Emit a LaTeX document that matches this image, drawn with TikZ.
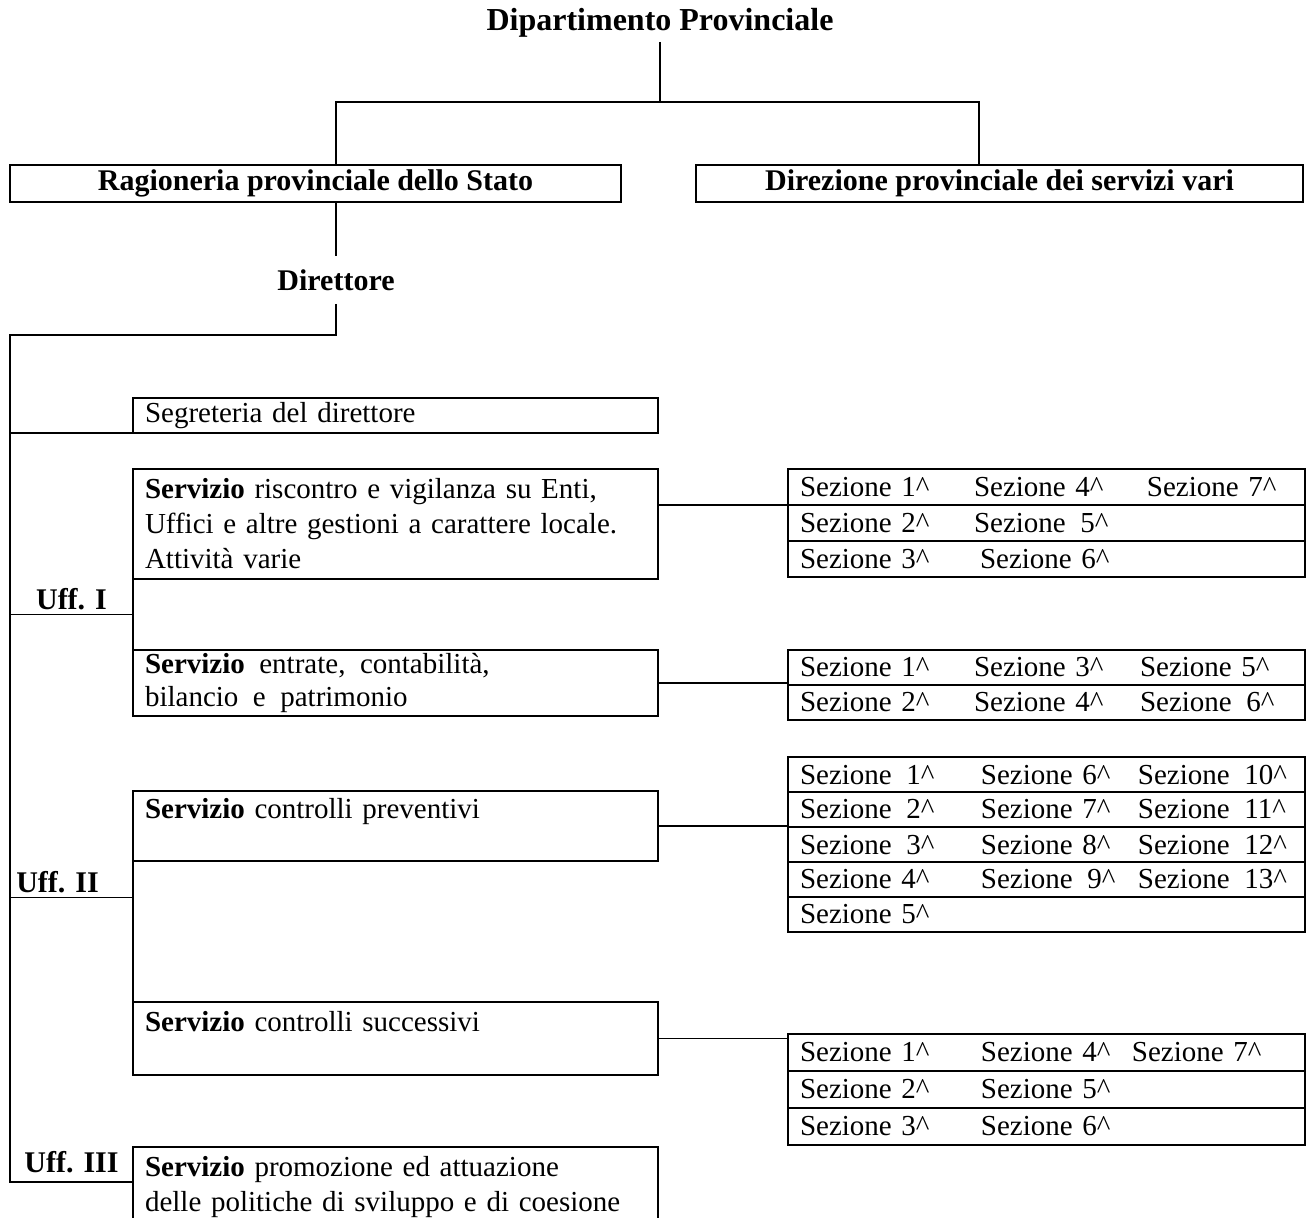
\documentclass[tikz,border=0pt]{standalone}
\usepackage{fontspec}
\setmainfont{Liberation Serif}
\usetikzlibrary{positioning,calc}
\tikzset{
	orgbox/.style={
		rectangle,
		draw=black, line width=1pt,
		outer sep=0pt,
		inner xsep=6pt, inner ysep=1pt,
		font=\fontsize{14.5}{17.5}\selectfont,
	},
	headbox/.style={
		orgbox,
		font=\fontsize{15}{18}\selectfont\bfseries,
		text centered,
		minimum height=18.5pt,
	},
	servbox/.style={orgbox, anchor=north west, align=left, text width=250.5pt},
	sezbox/.style={orgbox, anchor=north west, align=left, text width=246.5pt},
	ufflabel/.style={font=\fontsize{15}{18}\selectfont\bfseries, inner sep=2pt},
	link/.style={line width=0.75pt},
}
\newcommand{\sez}[1]{Sezione #1\textasciicircum}
\newcommand{\sezw}[1]{Sezione\enspace#1\textasciicircum}
\newcommand{\sezcols}[5]{\makebox[#1][l]{#3}\makebox[#2][l]{#4}#5}

\begin{document}
\begin{tikzpicture}[x=0.5pt,y=-0.5pt]
	\useasboundingbox (0,0) rectangle (1308,1217);
	\clip (0,0) rectangle (1308,1217);

	% top level
	\node[ufflabel, font=\fontsize{16}{19}\selectfont\bfseries] (dip) at (660,23) {Dipartimento Provinciale};
	\coordinate (bar) at (660,102);
	\node[headbox, minimum width=305.5pt] (rag) at (315.5,183.5) {Ragioneria provinciale dello Stato};
	\node[headbox, minimum width=303.5pt] (dir) at (999.5,183.5) {Direzione provinciale dei servizi vari};

	% director and the left spine
	\node[ufflabel, minimum height=23.5pt] (dirett) at (336,280) {Direttore};
	\coordinate (spinetop) at (10,335);
	\coordinate (spinebot) at (10,1182);

	% services (left column)
	\node[servbox, minimum height=17.5pt] (seg) at (133,398) {Segreteria del direttore};
	\node[servbox, minimum height=55pt] (ris) at (133,469)
	{
		\textbf{Servizio} riscontro e vigilanza su Enti,\\
		Uffici e altre gestioni a carattere locale.\\
		Attività varie
	};
	\node[servbox, minimum height=33pt, font=\fontsize{14.5}{16.5}\selectfont] (ent) at (133,650)
	{
		\textbf{Servizio}\enspace entrate,\enspace contabilità,\\
		bilancio\enspace e\enspace patrimonio
	};
	\node[servbox, minimum height=35pt] (pre) at (133,791) {\textbf{Servizio} controlli preventivi\\ \mbox{}};
	\node[servbox, minimum height=36.5pt] (suc) at (133,1002) {\textbf{Servizio} controlli successivi\\ \mbox{}};
	\node[servbox, minimum height=40pt] (pro) at (133,1147)
	{
		\textbf{Servizio} promozione ed attuazione\\
		delle politiche di sviluppo e di coesione
	};

	% sections (right column)
	\node[sezbox, minimum height=18pt] (s1a) at (788,469) {\sezcols{87pt}{86.5pt}{\sez{1}}{\sez{4}}{\sez{7}}};
	\node[sezbox, minimum height=18pt, below=0pt of s1a] (s1b) {\sezcols{87pt}{86.5pt}{\sez{2}}{\sezw{5}}{}};
	\node[sezbox, minimum height=18pt, below=0pt of s1b] (s1c) {\sezcols{90pt}{86.5pt}{\sez{3}}{\sez{6}}{}};

	\node[sezbox, minimum height=17.5pt] (s2a) at (788,650) {\sezcols{87pt}{83pt}{\sez{1}}{\sez{3}}{\sez{5}}};
	\node[sezbox, minimum height=17.5pt, below=0pt of s2a] (s2b) {\sezcols{87pt}{83pt}{\sez{2}}{\sez{4}}{\sezw{6}}};

	\node[sezbox, minimum height=17.5pt] (s3a) at (788,757) {\sezcols{90.5pt}{78.5pt}{\sezw{1}}{\sez{6}}{\sezw{10}}};
	\node[sezbox, minimum height=17.5pt, below=0pt of s3a] (s3b) {\sezcols{90.5pt}{78.5pt}{\sezw{2}}{\sez{7}}{\sezw{11}}};
	\node[sezbox, minimum height=17.5pt, below=0pt of s3b] (s3c) {\sezcols{90.5pt}{78.5pt}{\sezw{3}}{\sez{8}}{\sezw{12}}};
	\node[sezbox, minimum height=17.5pt, below=0pt of s3c] (s3d) {\sezcols{90.5pt}{78.5pt}{\sez{4}}{\sezw{9}}{\sezw{13}}};
	\node[sezbox, minimum height=17.5pt, below=0pt of s3d] (s3e) {\sez{5}};

	\node[sezbox, minimum height=18.5pt] (s4a) at (788,1034) {\sezcols{90.5pt}{75.5pt}{\sez{1}}{\sez{4}}{\sez{7}}};
	\node[sezbox, minimum height=18.5pt, below=0pt of s4a] (s4b) {\sezcols{90.5pt}{75.5pt}{\sez{2}}{\sez{5}}{}};
	\node[sezbox, minimum height=18.5pt, below=0pt of s4b] (s4c) {\sezcols{90.5pt}{75.5pt}{\sez{3}}{\sez{6}}{}};

	% connectors
	\draw[link] (dip) -- (bar);
	\draw[link] ([xshift=10.25pt]rag.north) |- (bar) -| ([xshift=-10.25pt]dir.north);
	\draw[link] ([xshift=10.25pt]rag.south) -- (dirett.north);
	\draw[link] (dirett.south) |- (spinetop) -- (spinebot) -- (spinebot -| pro.west);
	\draw[link] (seg.south west) -- (seg.south west -| spinetop);
	\draw[link] (ris.south west) -- (ent.north west);
	\draw[link] ($(ris.south west)!.5!(ent.north west)$) coordinate (j1) -- (j1 -| spinetop);
	\draw[link] (pre.south west) -- (suc.north west);
	\draw[link] ($(pre.south west)!.26!(suc.north west)$) coordinate (j2) -- (j2 -| spinetop);
	\draw[link] (s1a.south west) -- (s1a.south west -| ris.east);
	\draw[link] (ent.east) -- (ent.east -| s2a.west);
	\draw[link] (pre.east) -- (pre.east -| s3a.west);
	\draw[link] (suc.east) -- (suc.east -| s4a.west);

	% office labels
	\node[ufflabel, above] (uff1) at ($(j1)!.5!(j1 -| spinetop)$) {Uff. I};
	\node[ufflabel, above, xshift=-7pt] (uff2) at ($(j2)!.5!(j2 -| spinetop)$) {Uff. II};
	\node[ufflabel, above, yshift=2.5pt] (uff3) at ($(spinebot)!.5!(spinebot -| pro.west)$) {Uff. III};

\end{tikzpicture}
\end{document}
